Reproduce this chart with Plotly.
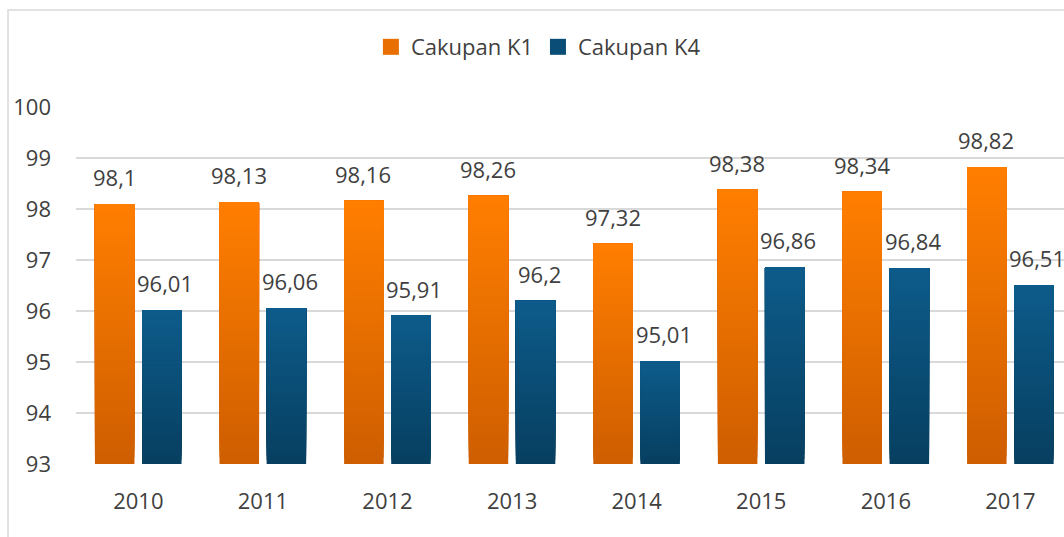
import plotly.graph_objects as go

years = ["2010", "2011", "2012", "2013", "2014", "2015", "2016", "2017"]
k1 = [98.10, 98.13, 98.16, 98.26, 97.32, 98.38, 98.34, 98.82]
k4 = [96.01, 96.06, 95.91, 96.20, 95.01, 96.86, 96.84, 96.51]
series_names = ["Cakupan K1", "Cakupan K4"]
y_ticks = [93, 94, 95, 96, 97, 98, 99, 100]

AXIS_MIN = 93
N = 40
FONT = "Open Sans"
TXT = "#404040"

def lerp(c0, c1, t):
    return "rgb(%d,%d,%d)" % tuple(round(a + (b - a) * t) for a, b in zip(c0, c1))

styles = [
    dict(bottom=(0xCE, 0x5E, 0x00), top=(0xFF, 0x7E, 0x00), offset=-0.348, xshift=-24),
    dict(bottom=(0x07, 0x3F, 0x60), top=(0x0D, 0x5B, 0x8A), offset=0.030, xshift=27),
]
WIDTH = 0.317

fig = go.Figure()
annotations = []
for name, vals, st in zip(series_names, [k1, k4], styles):
    for k in range(N):
        bases = [AXIS_MIN + (v - AXIS_MIN) * k / N for v in vals]
        heights = [v - b for v, b in zip(vals, bases)]
        fig.add_trace(go.Bar(
            x=years, y=heights, base=bases,
            width=WIDTH, offset=st["offset"],
            marker=dict(color=lerp(st["bottom"], st["top"], k / (N - 1)), line=dict(width=0)),
            name=name, legendgroup=name, showlegend=False,
            hoverinfo="skip",
        ))
    # legend entry
    fig.add_trace(go.Scatter(
        x=[None], y=[None], mode="markers", name=name, legendgroup=name,
        marker=dict(symbol="square", size=16, color=lerp(st["bottom"], st["top"], 0.55)),
        showlegend=True,
    ))
    for i, v in enumerate(vals):
        annotations.append(dict(
            x=i, y=v, xref="x", yref="y", text=str(v).replace(".", ","),
            showarrow=False, yanchor="bottom", xshift=st["xshift"], yshift=10,
            font=dict(family=FONT, size=22, color=TXT),
        ))

fig.update_layout(
    width=1064, height=537,
    margin=dict(l=76, r=0, t=107, b=73),
    paper_bgcolor="white", plot_bgcolor="white",
    barmode="overlay",
    separators=",.",
    font=dict(family=FONT, size=22, color=TXT),
    showlegend=True,
    legend=dict(orientation="h", x=0.468, xanchor="center", y=1.168, yanchor="middle",
                font=dict(family=FONT, size=22, color=TXT), traceorder="normal",
                itemclick=False, itemdoubleclick=False, itemwidth=30),
    annotations=annotations,
    shapes=[dict(type="rect", xref="paper", yref="paper",
                 x0=-0.0688, x1=1.05, y0=-0.3, y1=1.272,
                 line=dict(color="#d9d9d9", width=1.5), fillcolor="rgba(0,0,0,0)", layer="below")],
)
fig.update_xaxes(type="category", range=[-0.5, 7.43], showgrid=False, showline=False,
                 ticks="", ticklabelstandoff=22, tickfont=dict(size=22, color=TXT))
fig.update_yaxes(range=[93, 100], tickvals=y_ticks, showgrid=True, gridcolor="#d9d9d9",
                 gridwidth=1.5, zeroline=False, showline=False, ticks="",
                 ticklabelstandoff=24, tickfont=dict(size=22, color=TXT))

fig.write_html("out.html", config={"displayModeBar": False},
               post_script="document.body.style.margin='0';")
